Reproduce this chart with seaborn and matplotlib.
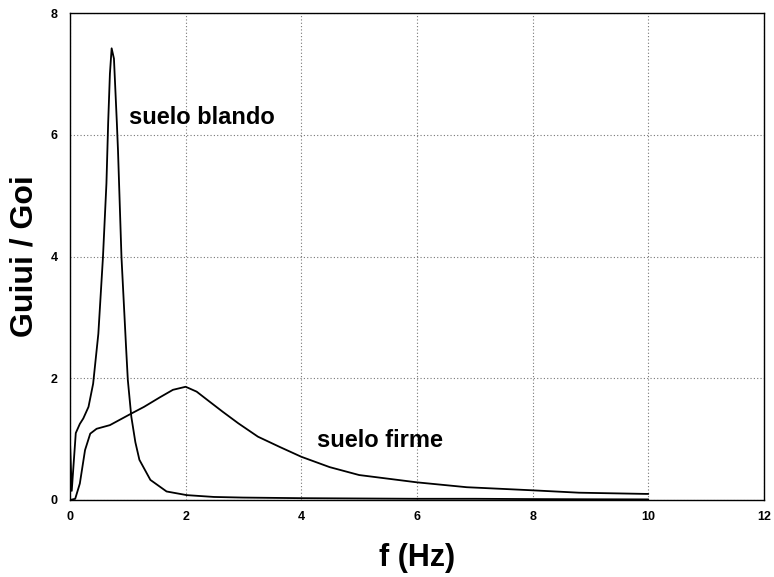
import numpy as np
import pandas as pd
import matplotlib
matplotlib.use("Agg")
import matplotlib.pyplot as plt
import seaborn as sns

# Data
f_blando = [0.0, 0.03, 0.1, 0.17, 0.23, 0.32, 0.4, 0.49, 0.57, 0.63, 0.66, 0.69,
            0.72, 0.76, 0.81, 0.83, 0.89, 0.97, 1.0, 1.06, 1.13, 1.2, 1.39, 1.67,
            2.02, 2.49, 2.99, 4.0, 5.0, 6.0, 7.0, 8.0, 9.0, 10.0]
g_blando = [0.95, 0.15, 1.1, 1.25, 1.34, 1.53, 1.91, 2.73, 3.99, 5.2, 6.2, 7.0,
            7.42, 7.25, 6.2, 5.74, 3.99, 2.5, 1.97, 1.37, 0.95, 0.66, 0.33, 0.14,
            0.08, 0.05, 0.04, 0.03, 0.025, 0.02, 0.02, 0.015, 0.012, 0.01]

f_firme = [0.0, 0.09, 0.17, 0.26, 0.35, 0.46, 0.69, 1.06, 1.28, 1.56, 1.78, 2.0,
           2.19, 2.38, 2.64, 2.91, 3.25, 3.63, 4.0, 4.49, 5.0, 6.0, 6.86, 7.98,
           8.8, 9.95, 10.0]
g_firme = [0.0, 0.02, 0.27, 0.82, 1.09, 1.17, 1.23, 1.42, 1.53, 1.69, 1.81, 1.86,
           1.78, 1.64, 1.45, 1.26, 1.04, 0.87, 0.71, 0.54, 0.41, 0.29, 0.21, 0.16,
           0.12, 0.10, 0.10]

series_labels = ["suelo blando", "suelo firme"]
x_ticks = [0, 2, 4, 6, 8, 10, 12]
y_ticks = [0, 2, 4, 6, 8]
x_label = "f (Hz)"
y_label = "Guiui / Goi"

df = pd.concat([
    pd.DataFrame({"f": f_blando, "G": g_blando, "suelo": series_labels[0]}),
    pd.DataFrame({"f": f_firme, "G": g_firme, "suelo": series_labels[1]}),
], ignore_index=True)

sns.set_style("white")
plt.rcParams["font.family"] = ["Liberation Sans", "DejaVu Sans"]
plt.rcParams["text.color"] = "black"
plt.rcParams["axes.labelcolor"] = "black"
plt.rcParams["xtick.color"] = "black"
plt.rcParams["ytick.color"] = "black"

fig = plt.figure(figsize=(7.74, 5.77), dpi=100)
ax = fig.add_axes([70 / 774, 1 - 500 / 577, 694 / 774, 487 / 577])

sns.lineplot(data=df, x="f", y="G", hue="suelo", units="suelo", estimator=None,
             palette=["black", "black"], linewidth=1.3, legend=False, ax=ax,
             sort=False)

ax.set_xlim(0, 12)
ax.set_ylim(0, 8)
ax.set_xticks(x_ticks)
ax.set_yticks(y_ticks)
ax.set_xticklabels([str(t) for t in x_ticks], fontsize=9, fontweight="bold")
ax.set_yticklabels([str(t) for t in y_ticks], fontsize=9, fontweight="bold")
ax.set_xticks(np.arange(1, 12, 2), minor=True)
ax.set_yticks(np.arange(1, 8, 2), minor=True)
ax.tick_params(axis="both", which="major", length=0)
ax.tick_params(axis="x", which="major", pad=8)
ax.tick_params(axis="y", which="major", pad=9)
ax.tick_params(axis="both", which="minor", direction="in", length=4, width=0.8,
               color="black")

ax.grid(True, which="major", color="#777777", linestyle=(0, (1, 2)), linewidth=0.8)
for s in ax.spines.values():
    s.set_color("black")
    s.set_linewidth(1.0)

ax.set_xlabel(x_label, fontsize=22, fontweight="bold", labelpad=14)
ax.set_ylabel(y_label, fontsize=23, fontweight="bold", labelpad=8)

ax.text(1.02, 6.29, series_labels[0], fontsize=17, fontweight="bold",
        va="center", ha="left")
ax.text(4.27, 0.985, series_labels[1], fontsize=17, fontweight="bold",
        va="center", ha="left")

fig.savefig("out.png", dpi=100, facecolor="white")
